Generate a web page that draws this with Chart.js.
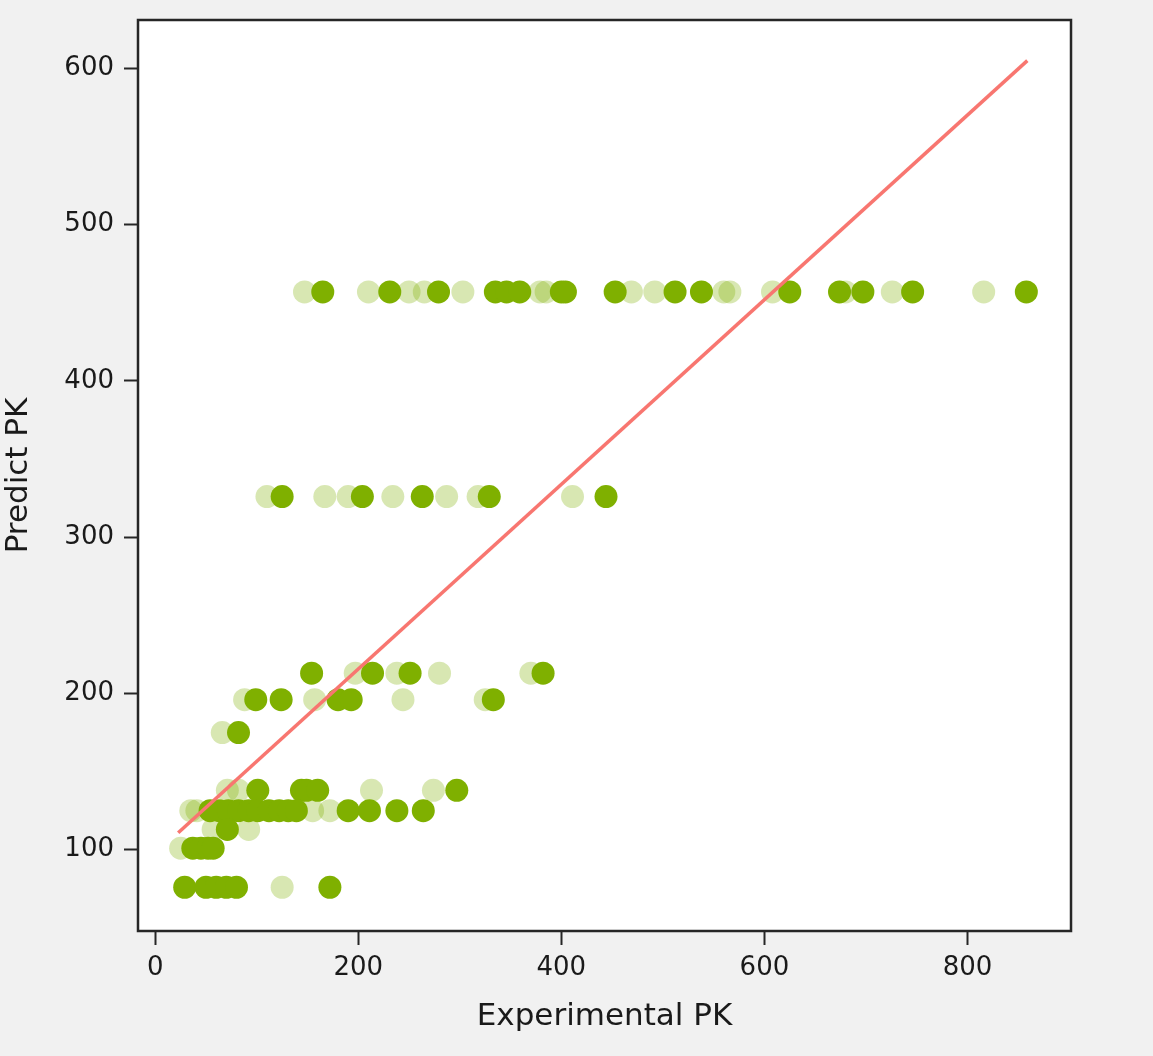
<!DOCTYPE html>
<html>
<head>
<meta charset="utf-8">
<script src="https://cdn.jsdelivr.net/npm/chart.js@4.4.1/dist/chart.umd.min.js"></script>
<style>
  html, body { margin: 0; padding: 0; background: #f1f1f1; }
  #wrap { width: 1153px; height: 1056px; }
</style>
</head>
<body>
<div id="wrap"><canvas id="pk"></canvas></div>
<script>
// predicted PK levels (each row of points)
var levels = [457, 326, 213, 196, 175, 138, 125, 113, 101, 76];

// experimental PK of solid (stacked) points, one list per level
var solidX = [
  [165, 231, 279, 335, 346, 359, 400, 404, 453, 512, 538, 625, 674, 697, 746, 858],
  [125, 204, 263, 329, 444],
  [154, 214, 251, 382],
  [99, 124, 180, 193, 333],
  [82],
  [101, 144, 149, 160, 297],
  [54, 63, 72, 82, 92, 101, 112, 122, 131, 139, 190, 211, 238, 264],
  [71],
  [37, 45, 52, 57],
  [29, 50, 60, 70, 80, 172]
];

// experimental PK of faint (single) points
var faintX = [
  [147, 210, 250, 265, 303, 379, 385, 469, 492, 560, 566, 608, 680, 726, 816],
  [110, 167, 190, 234, 287, 318, 411],
  [197, 238, 280, 370],
  [88, 157, 244, 325],
  [66],
  [71, 82, 213, 274],
  [35, 41, 155, 172],
  [57, 92],
  [25],
  [125]
];

// fitted line end points
var fitX = [22.6, 859];
var fitY = [110.9, 605];

var xTicks = [0, 200, 400, 600, 800];
var yTicks = [100, 200, 300, 400, 500, 600];

function toPoints(rows) {
  var pts = [];
  rows.forEach(function(xs, i) {
    xs.forEach(function(x) { pts.push({ x: x, y: levels[i] }); });
  });
  return pts;
}

var green = 'rgb(127,176,0)';
var greenFaint = 'rgba(127,176,0,0.3)';

// white plot area and black frame like matplotlib
var framePlugin = {
  id: 'frame',
  beforeDatasetsDraw: function(chart) {
    var a = chart.chartArea, ctx = chart.ctx;
    ctx.save();
    ctx.fillStyle = '#ffffff';
    ctx.fillRect(a.left, a.top, a.right - a.left, a.bottom - a.top);
    ctx.restore();
  },
  afterDraw: function(chart) {
    var a = chart.chartArea, ctx = chart.ctx;
    ctx.save();
    ctx.strokeStyle = '#262626';
    ctx.lineWidth = 2.5;
    ctx.strokeRect(a.left, a.top, a.right - a.left, a.bottom - a.top);
    ctx.restore();
  }
};

var tickFont = { family: 'DejaVu Sans', size: 26 };
var titleFont = { family: 'DejaVu Sans', size: 31 };

new Chart(document.getElementById('pk'), {
  type: 'scatter',
  data: {
    datasets: [
      {
        label: 'fit',
        type: 'line',
        data: [{ x: fitX[0], y: fitY[0] }, { x: fitX[1], y: fitY[1] }],
        borderColor: 'rgb(248,118,112)',
        borderWidth: 3.5,
        pointRadius: 0,
        fill: false,
        order: 0
      },
      {
        label: 'solid',
        data: toPoints(solidX),
        backgroundColor: green,
        borderWidth: 0,
        pointRadius: 11.5,
        order: 1
      },
      {
        label: 'faint',
        data: toPoints(faintX),
        backgroundColor: greenFaint,
        borderWidth: 0,
        pointRadius: 11.5,
        order: 2
      }
    ]
  },
  options: {
    responsive: true,
    maintainAspectRatio: false,
    animation: false,
    layout: { padding: { top: 20, right: 82, left: 0, bottom: 0 } },
    plugins: { legend: { display: false }, tooltip: { enabled: false } },
    scales: {
      x: {
        type: 'linear',
        min: -17,
        max: 902,
        afterBuildTicks: function(s) { s.ticks = xTicks.map(function(v) { return { value: v }; }); },
        afterFit: function(s) { s.height = 125; },
        grid: { drawOnChartArea: false, drawTicks: true, tickLength: 14, tickColor: '#262626', tickWidth: 2 },
        border: { display: false },
        ticks: { color: '#1a1a1a', font: tickFont, padding: 8, maxRotation: 0 },
        title: { display: true, text: 'Experimental PK', color: '#1a1a1a', font: titleFont, padding: { top: 8, bottom: 20 } }
      },
      y: {
        type: 'linear',
        min: 48,
        max: 631,
        afterBuildTicks: function(s) { s.ticks = yTicks.map(function(v) { return { value: v }; }); },
        afterFit: function(s) { s.width = 138; s.paddingTop = 0; s.paddingBottom = 0; },
        grid: { drawOnChartArea: false, drawTicks: true, tickLength: 14, tickColor: '#262626', tickWidth: 2 },
        border: { display: false },
        ticks: { color: '#1a1a1a', font: tickFont, padding: 10 },
        title: { display: true, text: 'Predict PK', color: '#1a1a1a', font: titleFont, padding: { top: 0, bottom: 4 } }
      }
    }
  },
  plugins: [framePlugin]
});
</script>
</body>
</html>
